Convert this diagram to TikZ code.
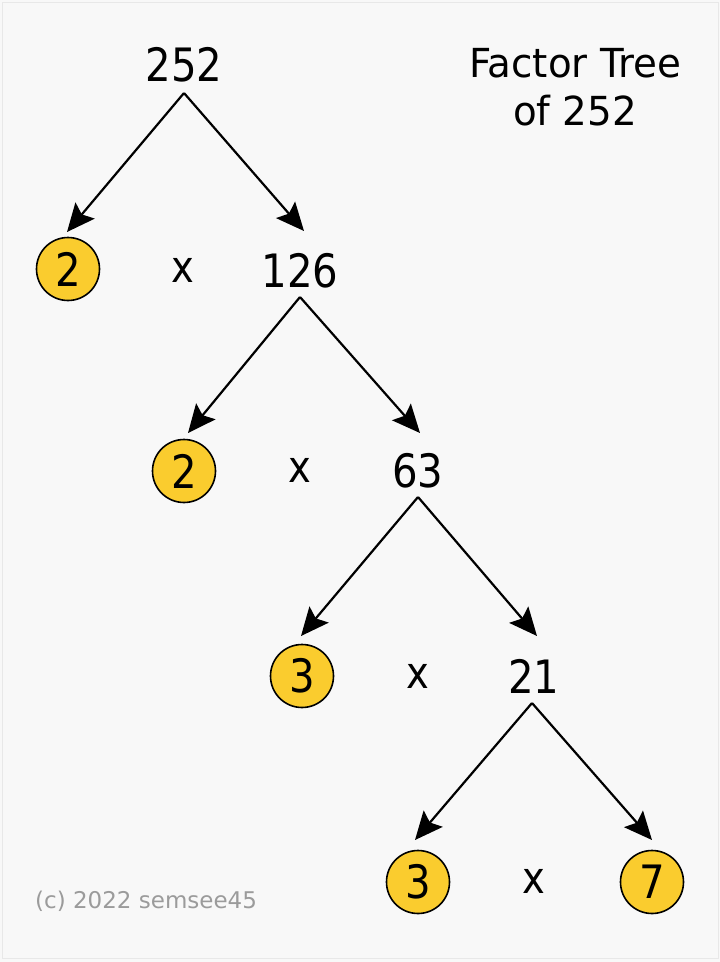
\documentclass[tikz,border=0pt]{standalone}
\usepackage{fontspec}
\setmainfont{DejaVu Sans}
\newfontfamily\numfont[FakeStretch=0.875]{DejaVu Sans}
\newfontfamily\titlefont[FakeStretch=0.97]{DejaVu Sans}
\usetikzlibrary{arrows.meta}
\definecolor{bgc}{RGB}{248,248,248}
\definecolor{edgec}{RGB}{232,232,232}
\definecolor{primec}{RGB}{250,204,46}
\definecolor{copyc}{RGB}{155,155,155}
\tikzset{
  num/.style={anchor=base, inner sep=0pt, font=\numfont\fontsize{46}{46}\selectfont},
  prime/.style={circle, draw=black, line width=1.6pt, fill=primec, minimum size=63pt, inner sep=0pt, font=\numfont\fontsize{46}{46}\selectfont},
  times/.style={anchor=base, inner sep=0pt, font=\numfont\fontsize{44}{44}\selectfont},
  title/.style={anchor=base, inner sep=0pt, font=\titlefont\fontsize{40}{40}\selectfont},
  arr/.style={line width=2.2pt, -{Stealth[length=28pt, width=25pt, inset=5pt]}},
}
\begin{document}
\begin{tikzpicture}[x=1pt, y=-1pt]
\useasboundingbox (0,0) rectangle (720,962);
\fill[bgc] (0,0) rectangle (720,962);
\draw[edgec, line width=1pt] (2,2) rectangle (718,958);

% title
\node[title] (t1) at (575,77) {Factor Tree};
\node[title] (t2) at (575,125) {of 252};

% level 1
\node[num] (n252) at (184,81) {252};
\coordinate (a1) at (184,93);
\coordinate (l1) at (67,232);
\coordinate (r1) at (304,231);
\draw[arr] (a1) -- (l1);
\draw[arr] (a1) -- (r1);

% level 2
\node[prime] (p2a) at (68,269) {2};
\node[times] (x1) at (183,282) {x};
\node[num] (n126) at (300,287) {126};
\coordinate (a2) at (300,297);
\coordinate (l2) at (188,433);
\coordinate (r2) at (420,433);
\draw[arr] (a2) -- (l2);
\draw[arr] (a2) -- (r2);

% level 3
\node[prime] (p2b) at (184,471) {2};
\node[times] (x2) at (300,482) {x};
\node[num] (n63) at (418,487) {63};
\coordinate (a3) at (418,497);
\coordinate (l3) at (301,636);
\coordinate (r3) at (537,636);
\draw[arr] (a3) -- (l3);
\draw[arr] (a3) -- (r3);

% level 4
\node[prime] (p3a) at (302,676) {3};
\node[times] (x3) at (418,688) {x};
\node[num] (n21) at (534,693) {21};
\coordinate (a4) at (532,703);
\coordinate (l4) at (415,840);
\coordinate (r4) at (652,840);
\draw[arr] (a4) -- (l4);
\draw[arr] (a4) -- (r4);

% level 5
\node[prime] (p3b) at (418,882) {3};
\node[times] (x4) at (534,893) {x};
\node[prime] (p7) at (652,882) {7};

% copyright
\node[anchor=base west, inner sep=0pt, text=copyc, font=\fontsize{23}{23}\selectfont] (cp) at (35,908) {(c) 2022 semsee45};
\end{tikzpicture}
\end{document}
